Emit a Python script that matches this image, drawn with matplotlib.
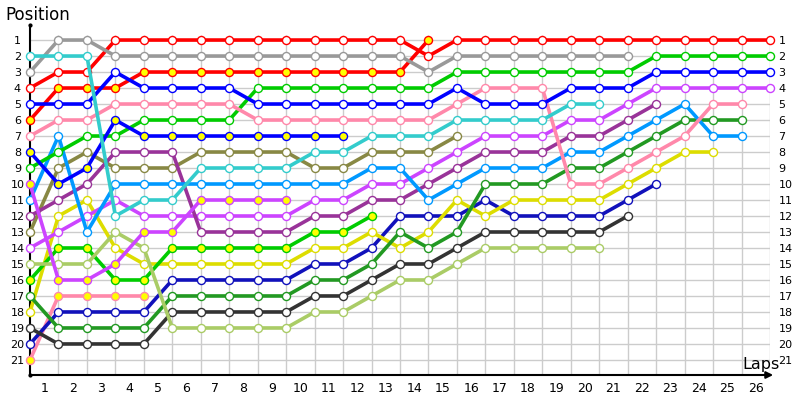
import matplotlib
matplotlib.use('Agg')
import matplotlib.pyplot as plt

# positions per lap, lap 0 = grid
red_a = [4,3,3,1,1,1,1,1,1,1,1,1,1,1,2,1,1,1,1,1,1,1,1,1,1,1,1]
red_b = [6,4,4,4,3,3,3,3,3,3,3,3,3,3,1]
gray = [3,1,1,2,2,2,2,2,2,2,2,2,2,2,3,2,2,2,2,2,2,2]
cyan = [2,2,2,12,11,11,9,9,9,9,8,8,7,7,7,6,6,6,6,5,5]
blue_a = [5,5,5,3,4,4,4,4,5,5,5,5,5,5,5,4,5,5,5,4,4,4,3,3,3,3,3]
blue_b = [8,10,9,6,7,7,7,7,7,7,7,7]
green_a = [9,8,7,7,6,6,6,6,4,4,4,4,4,4,4,3,3,3,3,3,3,3,2,2,2,2,2]
green_b = [16,14,14,16,16,14,14,14,14,14,13,13,12]
pink_a = [7,6,6,5,5,5,5,5,6,6,6,6,6,6,6,5,4,4,4,10,10,9,8,7,5,5]
pink_b = [21,17,17,17,17]
violet_a = [10,16,16,15,13,13,11,11,11,11]
violet_b = [14,13,12,11,12,12,12,12,12,12,11,11,10,10,9,8,7,7,7,6,6,5,4,4,4,4,4]
light_blue = [11,7,13,10,10,10,10,10,10,10,10,10,9,9,11,10,9,9,9,8,8,7,6,5,7,7]
purple = [12,11,10,8,8,8,13,13,13,13,12,12,11,11,10,9,8,8,8,7,7,6,5]
olive = [13,9,8,9,9,9,8,8,8,8,9,9,8,8,8,7]
light_green = [15,15,15,13,14,19,19,19,19,19,18,18,17,16,16,15,14,14,14,14,14]
forest = [17,19,19,19,19,17,17,17,17,17,16,16,15,13,14,13,10,10,10,9,9,8,7,6,6,6]
yellow = [18,12,11,14,15,15,15,15,15,15,14,14,13,14,13,11,12,11,11,11,11,10,9,8,8]
dark_gray = [19,20,20,20,20,18,18,18,18,18,17,17,16,15,15,14,13,13,13,13,13,12]
navy = [20,18,18,18,18,16,16,16,16,16,15,15,14,12,12,12,11,12,12,12,12,11,10]

n_laps = 26
n_pos = 21

series = [
    (pink_b, '#FF88AA', '#FFFF00'),
    (navy, '#1111BB', 'white'),
    (dark_gray, '#333333', 'white'),
    (yellow, '#DDDD00', 'white'),
    (forest, '#229922', 'white'),
    (green_b, '#00CC00', '#FFFF00'),
    (light_green, '#AACC66', 'white'),
    (violet_b, '#CC44FF', 'white'),
    (olive, '#888844', 'white'),
    (purple, '#993399', 'white'),
    (light_blue, '#0099FF', 'white'),
    (violet_a, '#CC44FF', '#FFFF00'),
    (green_a, '#00CC00', 'white'),
    (blue_b, '#0000FF', '#FFFF00'),
    (pink_a, '#FF88AA', 'white'),
    (red_b, '#FF0000', '#FFFF00'),
    (blue_a, '#0000FF', 'white'),
    (red_a, '#FF0000', 'white'),
    (gray, '#999999', 'white'),
    (cyan, '#33CCCC', 'white'),
]

fig = plt.figure(figsize=(8, 4), dpi=100)
ax = fig.add_axes([30/800, 25/400, 740/800, 350/400])
ax.set_xlim(0, n_laps)
ax.set_ylim(21.94, 0.06)

# grid
ax.vlines(range(1, n_laps+1), 0.7, 21.94, color='#CCCCCC', lw=1, zorder=0)
ax.hlines(range(1, n_pos+1), 0, n_laps, color='#CCCCCC', lw=1, zorder=0)

for pos, col, fill in series:
    ax.plot(range(len(pos)), pos, '-o', color=col, lw=2.6, ms=5.8,
            mfc=fill, mec=col, mew=1.0, clip_on=False, zorder=3)

for s in ['top', 'right']:
    ax.spines[s].set_visible(False)
ax.spines['left'].set_linewidth(1.5)
ax.spines['bottom'].set_linewidth(1.5)
ax.annotate('', xy=(1.008, 0), xytext=(0.99, 0), xycoords='axes fraction',
            arrowprops=dict(arrowstyle='-|>', color='black', lw=1.5, mutation_scale=10))
ax.plot([0, 0], [0.06, 21.94], 'k.', ms=4, clip_on=False, zorder=5)

ax.set_yticks(range(1, n_pos+1))
ax.set_yticklabels([str(p) for p in range(1, n_pos+1)])
ax.tick_params(axis='y', length=0, pad=9, labelsize=8)
for t in ax.get_yticklabels():
    t.set_horizontalalignment('center')

# right-hand position labels
ax2 = ax.twinx()
ax2.set_ylim(ax.get_ylim())
ax2.set_yticks(range(1, n_pos+1))
ax2.set_yticklabels([str(p) for p in range(1, n_pos+1)])
ax2.tick_params(axis='y', length=0, pad=6, labelsize=8)
for s in ax2.spines.values():
    s.set_visible(False)

ax.set_xticks(range(1, n_laps+1))
ax.set_xticklabels([])
ax.set_xticks([k - 0.5 for k in range(1, n_laps+1)], minor=True)
ax.set_xticklabels([str(k) for k in range(1, n_laps+1)], minor=True)
ax.tick_params(axis='x', which='both', length=0, labelsize=9, pad=5)

fig.text(5/800, 1 - 15/400, 'Position', fontsize=12, ha='left', va='center')
fig.text(742/800, 1 - 365/400, 'Laps', fontsize=11.5, ha='left', va='center')

fig.savefig('out.png', dpi=100)
